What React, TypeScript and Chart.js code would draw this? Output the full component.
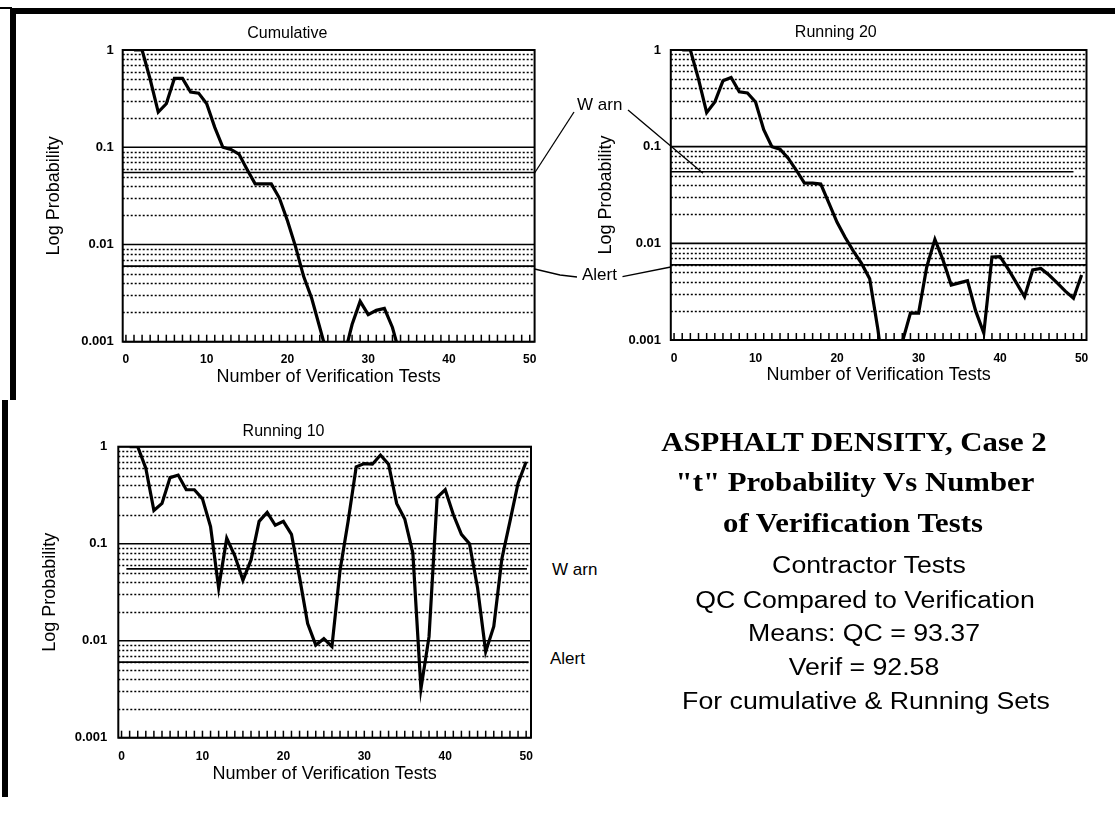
import React, { useEffect, useRef } from "react";
import { Chart, registerables } from "chart.js";

Chart.register(...registerables);

// ---------------- data ----------------
const testNumbers = [
  1, 2, 3, 4, 5, 6, 7, 8, 9, 10, 11, 12, 13, 14, 15, 16, 17, 18, 19, 20, 21, 22, 23, 24, 25,
  26, 27, 28, 29, 30, 31, 32, 33, 34, 35, 36, 37, 38, 39, 40, 41, 42, 43, 44, 45, 46, 47, 48, 49, 50,
];

const cumulativeP: (number | null)[] = [
  1, 1, 0.5, 0.23, 0.28, 0.51, 0.51, 0.37, 0.36, 0.28,
  0.16, 0.1, 0.095, 0.085, 0.059, 0.042, 0.042, 0.042, 0.03, 0.0175,
  0.0095, 0.0047, 0.0028, 0.0014, 0.0007, 0.0005, 0.0007, 0.0015, 0.0026, 0.0019,
  0.0021, 0.0022, 0.0014, 0.0007, null, null, null, null, null, null,
  null, null, null, null, null, null, null, null, null, null,
];

const running20P: (number | null)[] = [
  1, 1, 0.5, 0.225, 0.29, 0.48, 0.52, 0.37, 0.36, 0.29,
  0.15, 0.1, 0.094, 0.076, 0.057, 0.042, 0.042, 0.041, 0.026, 0.0165,
  0.0115, 0.0083, 0.0062, 0.0043, 0.0013, 0.0003, 0.0004, 0.00095, 0.0019, 0.0019,
  0.0057, 0.011, 0.0067, 0.0037, 0.0039, 0.0041, 0.002, 0.00118, 0.0072, 0.0073,
  0.0054, 0.0039, 0.0028, 0.0053, 0.0055, 0.0047, 0.0039, 0.0032, 0.0027, 0.0047,
];

const running10P: (number | null)[] = [
  1, 1, 0.6, 0.22, 0.26, 0.48, 0.51, 0.36, 0.36, 0.29,
  0.15, 0.035, 0.114, 0.075, 0.042, 0.068, 0.17, 0.21, 0.155, 0.17,
  0.125, 0.045, 0.015, 0.009, 0.0105, 0.0087, 0.053, 0.17, 0.62, 0.67,
  0.66, 0.82, 0.66, 0.26, 0.18, 0.08, 0.0032, 0.011, 0.3, 0.36,
  0.2, 0.125, 0.1, 0.035, 0.0077, 0.014, 0.07, 0.17, 0.42, 0.7,
];

const warnLevel = 0.055;
const alertLevel = 0.006;

const xTickValues = [0, 10, 20, 30, 40, 50];
const xMinorTicks = [0, ...testNumbers];
const yTickValues = [0.001, 0.01, 0.1, 1];
const yTickLabels = ["0.001", "0.01", "0.1", "1"];
const yMinorMultipliers = [2, 3, 4, 5, 6, 7, 8, 9];

const SANS = "'Liberation Sans', Arial, sans-serif";
const SERIF = "'Liberation Serif', 'Times New Roman', serif";

// ---------------- plugin: scanned-style grid ----------------
const scanGrid = {
  id: "scanGrid",
  beforeDatasetsDraw(chart: any) {
    const { ctx, chartArea: a, scales } = chart;
    const x = scales.x;
    const y = scales.y;
    ctx.save();
    // dotted minor lines
    ctx.strokeStyle = "#000";
    ctx.lineWidth = 1.5;
    ctx.setLineDash([2, 2]);
    for (let d = 0; d < yTickValues.length - 1; d++) {
      for (const m of yMinorMultipliers) {
        const py = Math.round(y.getPixelForValue(yTickValues[d] * m)) + 0.5;
        ctx.beginPath();
        ctx.moveTo(a.left, py);
        ctx.lineTo(a.right, py);
        ctx.stroke();
      }
    }
    ctx.setLineDash([]);
    // decade lines
    ctx.strokeStyle = "#000";
    ctx.lineWidth = 1.6;
    for (const v of yTickValues) {
      const py = y.getPixelForValue(v);
      ctx.beginPath();
      ctx.moveTo(a.left, py);
      ctx.lineTo(a.right, py);
      ctx.stroke();
    }
    // inside tick marks at the bottom
    ctx.lineWidth = 1.5;
    for (const t of xMinorTicks) {
      const px = x.getPixelForValue(t);
      ctx.beginPath();
      ctx.moveTo(px, a.bottom);
      ctx.lineTo(px, a.bottom - 7);
      ctx.stroke();
    }
    // plot border
    ctx.lineWidth = 2;
    ctx.strokeRect(a.left, a.top, a.right - a.left, a.bottom - a.top);
    ctx.restore();
  },
};

type Cfg = {
  title: string;
  values: (number | null)[];
  warnSpan: number[];
  alertSpan: number[];
  width: number;
  height: number;
  yAxisWidth: number;
  xAxisHeight: number;
  rightPad: number;
  titlePadTop: number;
  titlePadBottom: number;
  yTitlePadTop: number;
  yTickPad: number;
  xTickPad: number;
  xTitlePadBottom: number;
};

function buildConfig(c: Cfg): any {
  const lineDs = (level: number, span: number[]) => ({
    data: span.map((sx) => ({ x: sx, y: level })),
    borderColor: "#000",
    borderWidth: 1.7,
    pointRadius: 0,
    clip: 0,
  });
  return {
    type: "line",
    data: {
      datasets: [
        {
          data: testNumbers.map((n, i) => ({ x: n, y: c.values[i] })),
          borderColor: "#000",
          borderWidth: 3.2,
          pointRadius: 0,
          tension: 0,
          spanGaps: false,
          clip: 0,
        },
        lineDs(warnLevel, c.warnSpan),
        lineDs(alertLevel, c.alertSpan),
      ],
    },
    options: {
      responsive: false,
      maintainAspectRatio: false,
      animation: false,
      events: [],
      layout: { padding: { left: 0, right: c.rightPad, top: 0, bottom: 0 } },
      plugins: {
        legend: { display: false },
        tooltip: { enabled: false },
        title: {
          display: true,
          text: c.title,
          color: "#000",
          font: { family: SANS, size: 16, weight: "normal", lineHeight: 1.2 },
          padding: { top: c.titlePadTop, bottom: c.titlePadBottom },
        },
      },
      scales: {
        x: {
          type: "linear",
          min: -0.4,
          max: 50.6,
          afterBuildTicks: (s: any) => {
            s.ticks = xTickValues.map((v) => ({ value: v }));
          },
          afterFit: (s: any) => {
            s.height = c.xAxisHeight;
          },
          grid: { display: false, drawTicks: false },
          border: { display: false },
          ticks: {
            autoSkip: false,
            maxRotation: 0,
            color: "#000",
            padding: c.xTickPad,
            font: { family: SANS, size: 12, weight: "bold" },
            callback: (v: any) => String(v),
          },
          title: {
            display: true,
            text: "Number of Verification Tests",
            color: "#000",
            font: { family: SANS, size: 18, lineHeight: 1.2 },
            padding: { top: 0, bottom: c.xTitlePadBottom },
          },
        },
        y: {
          type: "logarithmic",
          min: 0.001,
          max: 1,
          afterBuildTicks: (s: any) => {
            s.ticks = yTickValues.map((v) => ({ value: v, major: true }));
          },
          afterFit: (s: any) => {
            s.width = c.yAxisWidth;
          },
          grid: { display: false, drawTicks: false },
          border: { display: false },
          ticks: {
            autoSkip: false,
            color: "#000",
            padding: c.yTickPad,
            font: { family: SANS, size: 13, weight: "bold" },
            callback: (v: any) => {
              const i = yTickValues.indexOf(Number(v));
              return i >= 0 ? yTickLabels[i] : "";
            },
          },
          title: {
            display: true,
            text: "Log Probability",
            color: "#000",
            font: { family: SANS, size: 18, lineHeight: 1.2 },
            padding: { top: c.yTitlePadTop, bottom: 0 },
          },
        },
      },
    },
    plugins: [scanGrid],
  };
}

function LogChart(props: { cfg: Cfg; left: number; top: number }) {
  const ref = useRef<HTMLCanvasElement | null>(null);
  useEffect(() => {
    if (!ref.current) return;
    const chart = new Chart(ref.current, buildConfig(props.cfg));
    return () => chart.destroy();
  }, []);
  return (
    <canvas
      ref={ref}
      width={props.cfg.width}
      height={props.cfg.height}
      style={{
        position: "absolute",
        left: props.left,
        top: props.top,
        width: props.cfg.width,
        height: props.cfg.height,
      }}
    />
  );
}

const chart1: Cfg = {
  title: "Cumulative",
  values: cumulativeP,
  warnSpan: [-0.4, 50.6],
  alertSpan: [-0.4, 50.6],
  width: 510,
  height: 380,
  yAxisWidth: 82.7,
  xAxisHeight: 53.3,
  rightPad: 15.4,
  titlePadTop: 8.7,
  titlePadBottom: 7.1,
  yTitlePadTop: 2.8,
  yTickPad: 9,
  xTickPad: 11,
  xTitlePadBottom: 7.5,
};

const chart2: Cfg = {
  title: "Running 20",
  values: running20P,
  warnSpan: [-0.4, 49],
  alertSpan: [-0.4, 50.6],
  width: 515,
  height: 380,
  yAxisWidth: 85.8,
  xAxisHeight: 55,
  rightPad: 13.5,
  titlePadTop: 8.4,
  titlePadBottom: 7.4,
  yTitlePadTop: 10.2,
  yTickPad: 9.8,
  xTickPad: 11,
  xTitlePadBottom: 9,
};

const chart3: Cfg = {
  title: "Running 10",
  values: running10P,
  warnSpan: [0.6, 50.1],
  alertSpan: [-0.4, 50.3],
  width: 510,
  height: 378,
  yAxisWidth: 82.3,
  xAxisHeight: 52.3,
  rightPad: 15,
  titlePadTop: 10.1,
  titlePadBottom: 5.4,
  yTitlePadTop: 3.2,
  yTickPad: 11,
  xTickPad: 12,
  xTitlePadBottom: 5.5,
};

const noteStyle: React.CSSProperties = {
  position: "absolute",
  fontFamily: SANS,
  fontSize: 17,
  color: "#000",
  lineHeight: "20px",
  whiteSpace: "nowrap",
};

function Line(props: { text: string; cx: number; cy: number; serif?: boolean }) {
  const serif = !!props.serif;
  return (
    <div
      style={{
        position: "absolute",
        left: props.cx - 300,
        top: props.cy - 20,
        width: 600,
        height: 40,
        lineHeight: "40px",
        textAlign: "center",
        whiteSpace: "nowrap",
        color: "#000",
        fontFamily: serif ? SERIF : SANS,
        fontWeight: serif ? "bold" : "normal",
        fontSize: serif ? 27 : 23,
        transform: serif ? "scaleX(1.14)" : "scaleX(1.16)",
      }}
    >
      {props.text}
    </div>
  );
}

export default function App() {
  return (
    <div
      style={{
        position: "absolute",
        left: 0,
        top: 0,
        width: 1115,
        height: 813,
        background: "#fff",
        overflow: "hidden",
      }}
    >
      <svg
        width={1115}
        height={813}
        style={{ position: "absolute", left: 0, top: 0 }}
      >
        <rect x={0} y={7} width={12} height={2} fill="#000" />
        <rect x={10} y={8} width={1105} height={6} fill="#000" />
        <rect x={10} y={8} width={6} height={392} fill="#000" />
        <rect x={2} y={400} width={6} height={397} fill="#000" />
        <g stroke="#000" strokeWidth={1.3} fill="none">
          <line x1={534.6} y1={173} x2={574} y2={112} />
          <line x1={628} y1={110} x2={703} y2={173.3} />
          <polyline points="534.6,269 560,275 577,277" />
          <line x1={622.5} y1={276.7} x2={670.8} y2={267} />
        </g>
      </svg>

      <LogChart cfg={chart1} left={40} top={15} />
      <LogChart cfg={chart2} left={585} top={15} />
      <LogChart cfg={chart3} left={36} top={412} />

      <div style={{ ...noteStyle, left: 577, top: 95 }}>W arn</div>
      <div style={{ ...noteStyle, left: 582, top: 265 }}>Alert</div>
      <div style={{ ...noteStyle, left: 552, top: 560 }}>W arn</div>
      <div style={{ ...noteStyle, left: 550, top: 649 }}>Alert</div>

      <Line text="ASPHALT DENSITY, Case 2" cx={854} cy={441.7} serif />
      <Line text={'"t" Probability Vs Number'} cx={855} cy={481.7} serif />
      <Line text="of Verification Tests" cx={853} cy={523.3} serif />
      <Line text="Contractor Tests" cx={869} cy={565} />
      <Line text="QC Compared to Verification" cx={865} cy={600} />
      <Line text="Means: QC = 93.37" cx={864} cy={633.3} />
      <Line text="Verif = 92.58" cx={864} cy={666.7} />
      <Line text="For cumulative & Running Sets" cx={866} cy={701} />
    </div>
  );
}
